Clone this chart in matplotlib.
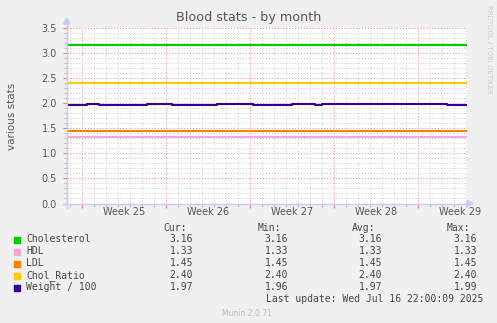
import matplotlib
matplotlib.use("Agg")
import matplotlib.pyplot as plt
from matplotlib.lines import Line2D
from matplotlib.patches import Polygon, Rectangle

# ---------------- data ----------------
series_names = ["Cholesterol", "HDL", "LDL", "Chol_Ratio", "Weight / 100"]
series_colors = ["#00CC00", "#F5A8DC", "#FF8000", "#FFCC00", "#330099"]
cholesterol = 3.16
hdl = 1.33
ldl = 1.45
chol_ratio = 2.40
# weight/100 as steps: start day of each level, and the level
weight_days = [0.0, 1.7, 2.7, 6.7, 8.8, 12.5, 15.5, 18.8, 19.7, 20.7, 21.3, 23.8, 24.6, 31.7, 33.34]
weight_vals = [1.96, 1.98, 1.96, 1.98, 1.96, 1.98, 1.97, 1.98, 1.99, 1.96, 1.98, 1.99, 1.98, 1.96, 1.96]
cur_vals = ["3.16", "1.33", "1.45", "2.40", "1.97"]
min_vals = ["3.16", "1.33", "1.45", "2.40", "1.96"]
avg_vals = ["3.16", "1.33", "1.45", "2.40", "1.97"]
max_vals = ["3.16", "1.33", "1.45", "2.40", "1.99"]
week_labels = ["Week 25", "Week 26", "Week 27", "Week 28", "Week 29"]
span_days = 33.34
first_week_day = 1.28
ytick_vals = [0.0, 0.5, 1.0, 1.5, 2.0, 2.5, 3.0, 3.5]

W, H = 497, 323
fig = plt.figure(figsize=(W / 100, H / 100), dpi=100, facecolor="#F0F0F0")

def fx(x):
    return x / W

def fy(y):
    return 1 - y / H

L, R, T, B = 66.7, 466.7, 28.0, 203.5
ax = fig.add_axes([fx(L), fy(B), fx(R) - fx(L), fy(T) - fy(B)])
ax.set_facecolor("white")
for s in ax.spines.values():
    s.set_visible(False)

ax.set_xlim(0, span_days)
ax.set_ylim(0, 3.5)

week_starts = [first_week_day + 7 * i for i in range(len(week_labels))]
days = [first_week_day - 1 + i for i in range(0, 34) if first_week_day - 1 + i <= span_days]
ax.set_xticks(week_starts)
ax.set_xticks(days, minor=True)
ax.set_xticklabels([])
ax.set_yticks(ytick_vals)
ax.set_yticks([i / 10 for i in range(36)], minor=True)
ax.set_yticklabels(["%.1f" % v for v in ytick_vals], fontsize=7, color="#555555")

ax.tick_params(axis="x", which="major", length=3, color="#F08080", width=0.8)
ax.tick_params(axis="x", which="minor", length=2, color="#BBBBBB", width=0.8)
ax.tick_params(axis="y", which="major", length=3, color="#F08080", width=0.8, pad=4)
ax.tick_params(axis="y", which="minor", length=2, color="#BBBBBB", width=0.8)

dot = (0, (1.2, 1.8))
ax.grid(True, which="minor", color="#D2D2D2", linestyle=dot, linewidth=0.7)
ax.grid(True, which="major", color="#EE9A9A", linestyle=dot, linewidth=0.7)
ax.set_axisbelow(True)

# week labels (centred mid-week)
for ws, lab in zip(week_starts, week_labels):
    ax.text(ws + 3.5, -0.17, lab, ha="center", va="center", fontsize=7,
            color="#555555", transform=ax.transData, clip_on=False)

# series
xs = [0, span_days]
lw = 1.5
ax.plot(xs, [cholesterol] * 2, color=series_colors[0], lw=lw, solid_capstyle="butt")
ax.plot(xs, [hdl] * 2, color=series_colors[1], lw=lw, solid_capstyle="butt")
ax.plot(xs, [ldl] * 2, color=series_colors[2], lw=lw, solid_capstyle="butt")
ax.plot(xs, [chol_ratio] * 2, color=series_colors[3], lw=lw, solid_capstyle="butt")
ax.step(weight_days, weight_vals, where="post", color=series_colors[4], lw=lw)

# axes lines with arrows
ax_col = "#C8C8F8"
fig.add_artist(Line2D([fx(L), fx(L)], [fy(B + 4), fy(24)], color=ax_col, lw=1))
fig.add_artist(Line2D([fx(L - 4), fx(468)], [fy(B), fy(B)], color=ax_col, lw=1))
fig.add_artist(Polygon([[fx(L - 3), fy(24)], [fx(L + 3), fy(24)], [fx(L), fy(18)]], closed=True,
                       color=ax_col, transform=fig.transFigure))
fig.add_artist(Polygon([[fx(467), fy(B - 3)], [fx(467), fy(B + 3)], [fx(473), fy(B)]], closed=True,
                       color=ax_col, transform=fig.transFigure))

# title / labels
fig.text(fx(248.5), fy(18), "Blood stats - by month", ha="center", va="center",
         fontsize=9.2, color="#555555")
fig.text(fx(12), fy(116), "various stats", ha="center", va="center", rotation=90,
         fontsize=7.5, color="#555555")
fig.text(fx(489), fy(5), "RRDTOOL / TOBI OETIKER", ha="center", va="top", rotation=270,
         fontsize=5, color="#CCCCCC")

# legend
mono = "DejaVu Sans Mono"
tc = "#444444"
fs = 7
header_y = 228
fig.text(fx(163), fy(header_y), "Cur:", ha="left", va="center", family=mono, fontsize=fs, color=tc)
fig.text(fx(258), fy(header_y), "Min:", ha="left", va="center", family=mono, fontsize=fs, color=tc)
fig.text(fx(352), fy(header_y), "Avg:", ha="left", va="center", family=mono, fontsize=fs, color=tc)
fig.text(fx(447), fy(header_y), "Max:", ha="left", va="center", family=mono, fontsize=fs, color=tc)
for i, name in enumerate(series_names):
    y = 239.5 + 12 * i
    fig.add_artist(Rectangle((fx(14), fy(y + 3)), fx(6), 6 / H, color=series_colors[i],
                             transform=fig.transFigure))
    fig.text(fx(26), fy(y), name, ha="left", va="center", family=mono, fontsize=fs, color=tc)
    fig.text(fx(193), fy(y), cur_vals[i], ha="right", va="center", family=mono, fontsize=fs, color=tc)
    fig.text(fx(288), fy(y), min_vals[i], ha="right", va="center", family=mono, fontsize=fs, color=tc)
    fig.text(fx(382), fy(y), avg_vals[i], ha="right", va="center", family=mono, fontsize=fs, color=tc)
    fig.text(fx(477), fy(y), max_vals[i], ha="right", va="center", family=mono, fontsize=fs, color=tc)

fig.text(fx(483), fy(299), "Last update: Wed Jul 16 22:00:09 2025", ha="right", va="center",
         family=mono, fontsize=fs, color=tc)
fig.text(fx(247), fy(313), "Munin 2.0.71", ha="center", va="center", fontsize=5.5, color="#BBBBBB")

fig.savefig("out.png", dpi=100, facecolor=fig.get_facecolor())
